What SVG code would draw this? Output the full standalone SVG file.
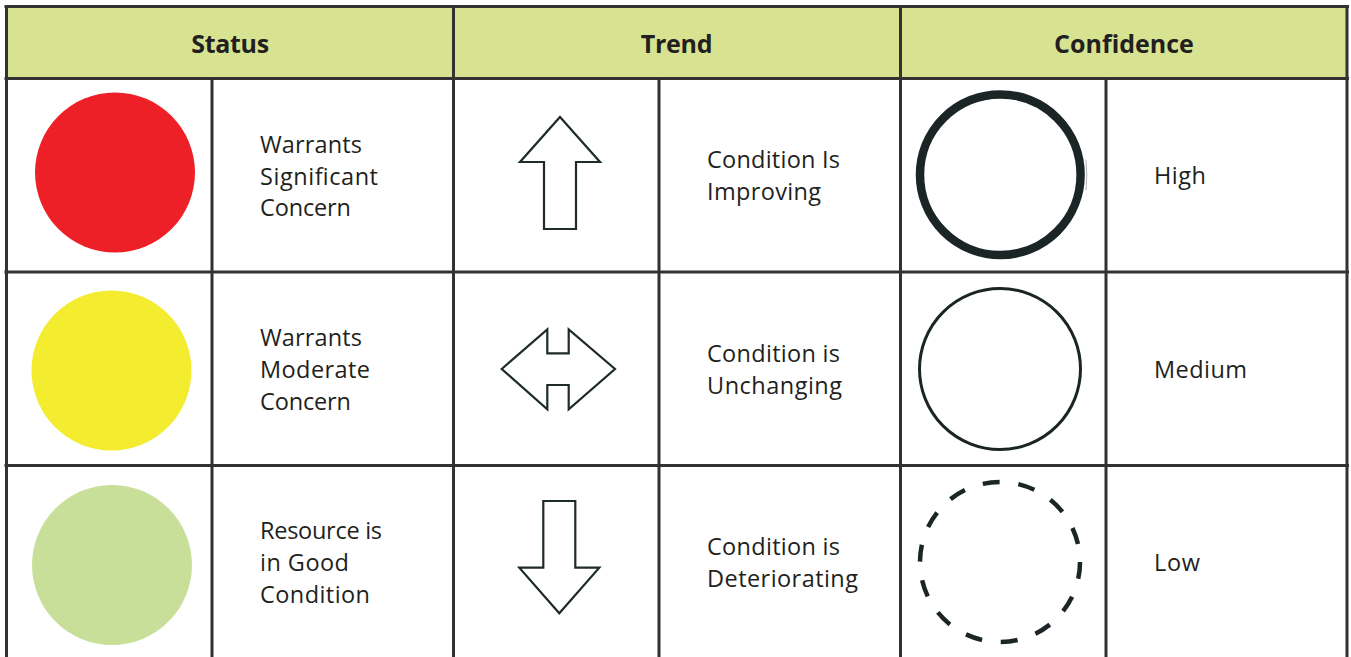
<svg xmlns="http://www.w3.org/2000/svg" width="1351" height="657" viewBox="0 0 1351 657">
<style>
.l{stroke:#333132;stroke-width:3;fill:none}
.t{font-family:"Open Sans","Noto Sans","DejaVu Sans",sans-serif;font-size:23.500px;fill:#231f20}
.h{font-family:"Open Sans","Noto Sans","DejaVu Sans",sans-serif;font-size:25px;font-weight:700;fill:#231f20;text-anchor:middle}
.a{fill:#fff;stroke:#1f2a2a;stroke-width:2.2;stroke-linejoin:miter}
.c{fill:none;stroke:#1c2526}
</style>
<rect width="1351" height="657" fill="#fff"/>
<rect id="header-bg" x="6" y="6" width="1341" height="72" fill="#d7e391"/>
<g id="grid">
<path class="l" d="M4.500 6.500H1349M4.500 78.500H1349M4.500 272H1349M4.500 465.500H1349"/>
<path class="l" d="M6.500 5V657M453.500 5V657M900.500 5V657M1347 5V657M212 78V657M659 78V657M1106 78V657"/>
</g>
<g id="status-header"><text class="h" x="230" y="53" letter-spacing="-.3">Status</text></g>
<g id="trend-header"><text class="h" x="676.500" y="53" letter-spacing="-.3">Trend</text></g>
<g id="confidence-header"><text class="h" x="1124" y="53">Confidence</text></g>
<g id="status-red"><circle cx="115" cy="172.500" r="80" fill="#ee2027"/><text class="t" x="260" y="153" textLength="102">Warrants</text><text class="t" x="260" y="184.500" textLength="118">Significant</text><text class="t" x="260" y="216" textLength="91">Concern</text></g>
<g id="status-yellow"><circle cx="111.500" cy="370.500" r="80" fill="#f4ec2e"/><text class="t" x="260" y="346" textLength="102">Warrants</text><text class="t" x="260" y="378" textLength="110">Moderate</text><text class="t" x="260" y="409.500" textLength="91">Concern</text></g>
<g id="status-green"><circle cx="112" cy="565" r="80" fill="#c8df9a"/><text class="t" x="260" y="539" textLength="122">Resource is</text><text class="t" x="260" y="571" textLength="89">in Good</text><text class="t" x="260" y="602.500" textLength="110">Condition</text></g>
<g id="trend-up"><path class="a" d="M560 117L600 162H576V229H544V162H520Z"/><text class="t" x="707" y="168" textLength="133">Condition Is</text><text class="t" x="707" y="200" textLength="114">Improving</text></g>
<g id="trend-flat"><path class="a" d="M501.700 369L547.300 329.300V353.300H568.700V329.300L615 369L568.700 409.300V385H547.300V409.300Z"/><text class="t" x="707" y="362" textLength="133">Condition is</text><text class="t" x="707" y="393.500" textLength="135">Unchanging</text></g>
<g id="trend-down"><path class="a" d="M543.300 501H575.300V567.700H599.300L559.300 613.300L519.300 567.700H543.300Z"/><text class="t" x="707" y="555" textLength="133">Condition is</text><text class="t" x="707" y="587" textLength="151">Deteriorating</text></g>
<g id="confidence-high"><circle class="c" cx="1000.300" cy="174.700" r="80.300" stroke-width="8.500"/><path d="M1086 160Q1087.500 175 1086 190" fill="none" stroke="#9aa0a0" stroke-width="0.800"/><text class="t" x="1154" y="184" textLength="52">High</text></g>
<g id="confidence-medium"><circle class="c" cx="1000" cy="369" r="80.500" stroke-width="3"/><text class="t" x="1154" y="377.500" textLength="93">Medium</text></g>
<g id="confidence-low"><circle class="c" cx="1000" cy="562" r="80" stroke-width="4.500" stroke-dasharray="17 18.900"/><text class="t" x="1154" y="571" textLength="46">Low</text></g>
</svg>
